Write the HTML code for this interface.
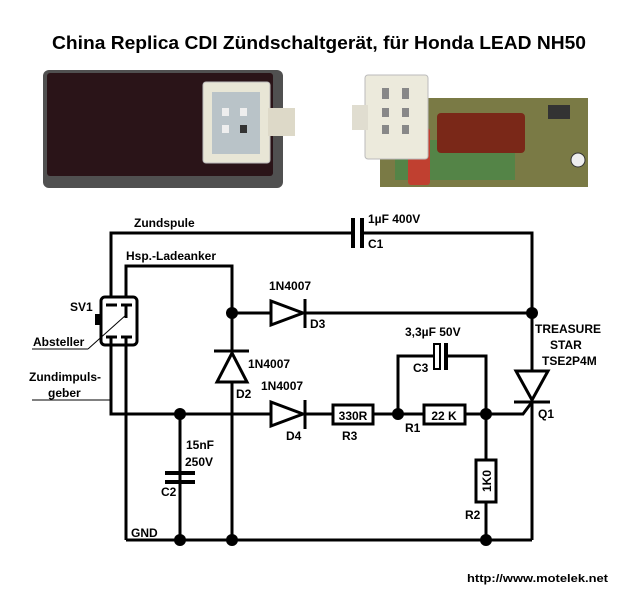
<!DOCTYPE html>
<html><head><meta charset="utf-8"><style>
body{margin:0;background:#fff}
svg{display:block}
text{font-family:"Liberation Sans",Arial,sans-serif;font-weight:bold;font-size:12px;fill:#000}
</style></head><body>
<svg width="640" height="600" viewBox="0 0 640 600" xmlns="http://www.w3.org/2000/svg">
<rect width="640" height="600" fill="#fff"/>
<text x="52" y="49" textLength="534" lengthAdjust="spacingAndGlyphs" style="font-size:18px">China Replica CDI Zündschaltgerät, für Honda LEAD NH50</text>

<!-- left photo -->
<rect x="43" y="70" width="240" height="118" rx="6" fill="#505050"/>
<rect x="47" y="73" width="226" height="103" rx="3" fill="#2a1418"/>
<rect x="203" y="82" width="67" height="81" rx="3" fill="#e8e6d6" stroke="#bbb"/>
<rect x="268" y="108" width="27" height="28" fill="#ddd9c8"/>
<rect x="212" y="92" width="48" height="62" fill="#b9c3c8"/>
<rect x="222" y="108" width="7" height="8" fill="#eee"/><rect x="240" y="108" width="7" height="8" fill="#eee"/>
<rect x="222" y="125" width="7" height="8" fill="#eee"/><rect x="240" y="125" width="7" height="8" fill="#333"/>
<!-- right photo -->
<rect x="380" y="98" width="208" height="89" fill="#7a7a45"/>
<rect x="395" y="140" width="120" height="40" fill="#3a8a4a" opacity=".6"/>
<rect x="437" y="113" width="88" height="40" rx="4" fill="#7a2818"/>
<rect x="408" y="128" width="22" height="57" rx="3" fill="#c04030"/>
<rect x="548" y="105" width="22" height="14" fill="#333"/>
<circle cx="578" cy="160" r="7" fill="#eee" stroke="#333"/>
<rect x="365" y="75" width="63" height="84" rx="3" fill="#eceadc" stroke="#bbb"/>
<rect x="352" y="105" width="16" height="25" fill="#e0ddd0"/>
<rect x="382" y="88" width="7" height="11" fill="#888"/><rect x="402" y="88" width="7" height="11" fill="#888"/>
<rect x="382" y="108" width="7" height="9" fill="#888"/><rect x="402" y="108" width="7" height="9" fill="#888"/>
<rect x="382" y="125" width="7" height="9" fill="#888"/><rect x="402" y="125" width="7" height="9" fill="#888"/>

<g stroke="#000" stroke-width="3" fill="none">
<polyline points="111,297 111,233 352,233"/>
<polyline points="363,233 532,233 532,540"/>
<polyline points="126,297 126,266 232,266 232,540"/>
<polyline points="111,345 111,414 523,414 532,402"/>
<line x1="126" y1="345" x2="126" y2="540"/>
<line x1="126" y1="540" x2="532" y2="540"/>
<line x1="232" y1="313" x2="532" y2="313"/>
<polyline points="398,414 398,356 433,356"/>
<polyline points="447,356 486,356 486,540"/>
<line x1="180" y1="414" x2="180" y2="540"/>
</g>
<rect x="351" y="218" width="4" height="30" fill="#000"/>
<rect x="360" y="218" width="4" height="30" fill="#000"/>
<polygon points="271,301 271,325 303,313" fill="#fff" stroke="#000" stroke-width="3"/>
<line x1="305" y1="299" x2="305" y2="328" stroke="#000" stroke-width="3"/>
<polygon points="271,402 271,426 303,414" fill="#fff" stroke="#000" stroke-width="3"/>
<line x1="305" y1="400" x2="305" y2="429" stroke="#000" stroke-width="3"/>
<polygon points="217,382 247,382 232,353" fill="#fff" stroke="#000" stroke-width="3"/>
<line x1="214" y1="351" x2="249" y2="351" stroke="#000" stroke-width="3"/>
<rect x="333" y="405" width="40" height="19" fill="#fff" stroke="#000" stroke-width="3"/>
<rect x="424" y="405" width="41" height="19" fill="#fff" stroke="#000" stroke-width="3"/>
<text x="353" y="420" text-anchor="middle">330R</text>
<text x="444" y="420" text-anchor="middle">22 K</text>
<rect x="434" y="344" width="6" height="25" fill="#fff" stroke="#000" stroke-width="2"/>
<rect x="444" y="343" width="4" height="27" fill="#000"/>
<rect x="476" y="460" width="20" height="42" fill="#fff" stroke="#000" stroke-width="3"/>
<text transform="translate(491,481) rotate(-90)" text-anchor="middle">1K0</text>
<rect x="165" y="471" width="30" height="4" fill="#000"/>
<rect x="165" y="480" width="30" height="4" fill="#000"/>
<polygon points="516,371 548,371 532,400" fill="#fff" stroke="#000" stroke-width="3"/>
<line x1="514" y1="402" x2="550" y2="402" stroke="#000" stroke-width="3"/>
<rect x="101" y="297" width="36" height="48" rx="4" fill="#fff" stroke="#000" stroke-width="3"/>
<g stroke="#000" stroke-width="3">
<line x1="106" y1="305" x2="117" y2="305"/><line x1="121" y1="305" x2="132" y2="305"/>
<line x1="106" y1="337" x2="117" y2="337"/><line x1="121" y1="337" x2="132" y2="337"/>
<line x1="126" y1="305" x2="126" y2="318"/>
<line x1="111" y1="337" x2="111" y2="345"/><line x1="126" y1="337" x2="126" y2="345"/>
</g>
<rect x="95" y="314" width="5" height="11" fill="#000"/>
<line x1="32" y1="349" x2="88" y2="349" stroke="#000"/>
<line x1="88" y1="349" x2="126" y2="315" stroke="#000"/>
<line x1="32" y1="400" x2="111" y2="400" stroke="#000"/>
<g fill="#000">
<circle cx="232" cy="313" r="6"/><circle cx="532" cy="313" r="6"/>
<circle cx="180" cy="414" r="6"/><circle cx="398" cy="414" r="6"/><circle cx="486" cy="414" r="6"/>
<circle cx="180" cy="540" r="6"/><circle cx="232" cy="540" r="6"/><circle cx="486" cy="540" r="6"/>
</g>
<text x="134" y="227">Zundspule</text>
<text x="126" y="260">Hsp.-Ladeanker</text>
<text x="70" y="311">SV1</text>
<text x="33" y="346">Absteller</text>
<text x="29" y="381">Zundimpuls-</text>
<text x="48" y="397">geber</text>
<text x="368" y="223">1µF 400V</text>
<text x="368" y="248">C1</text>
<text x="269" y="290">1N4007</text>
<text x="310" y="328">D3</text>
<text x="248" y="368">1N4007</text>
<text x="236" y="398">D2</text>
<text x="261" y="390">1N4007</text>
<text x="286" y="440">D4</text>
<text x="342" y="440">R3</text>
<text x="405" y="432">R1</text>
<text x="405" y="336">3,3µF 50V</text>
<text x="413" y="372">C3</text>
<text x="535" y="333">TREASURE</text>
<text x="550" y="349">STAR</text>
<text x="542" y="365">TSE2P4M</text>
<text x="538" y="418">Q1</text>
<text x="186" y="449">15nF</text>
<text x="185" y="466">250V</text>
<text x="161" y="496">C2</text>
<text x="131" y="537">GND</text>
<text x="465" y="519">R2</text>
<text x="467" y="582" textLength="141" lengthAdjust="spacingAndGlyphs" style="font-size:11px">http://www.motelek.net</text>
</svg>
</body></html>
